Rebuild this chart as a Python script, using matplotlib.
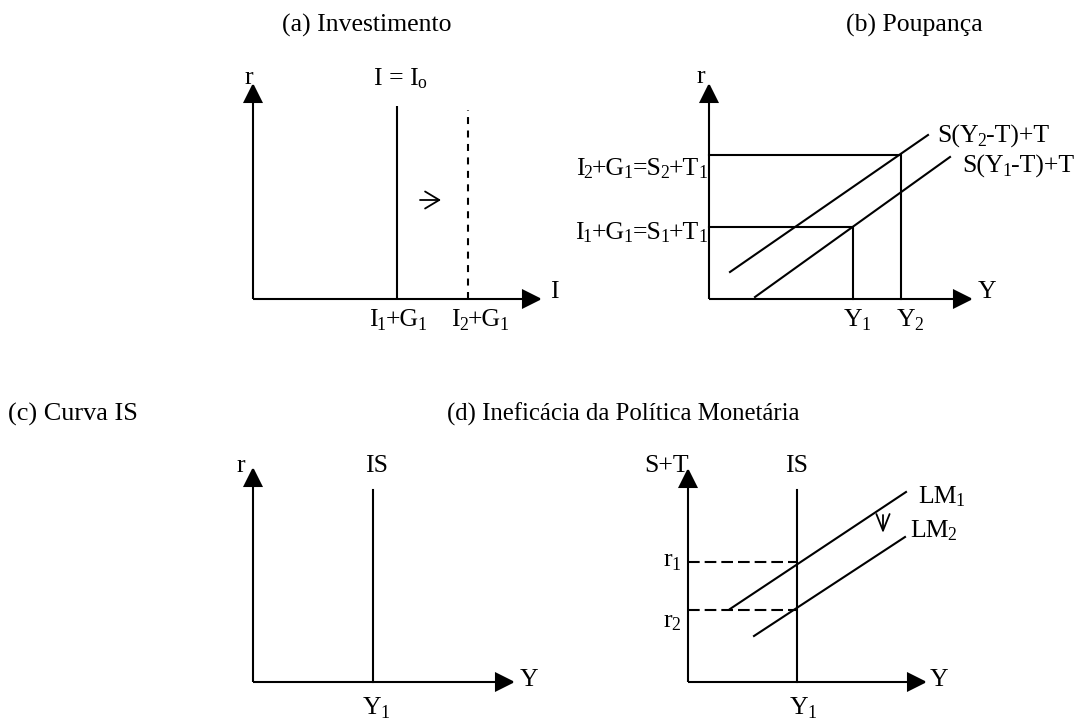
import matplotlib
matplotlib.use("Agg")
import matplotlib.pyplot as plt

plt.rcParams['font.family'] = ['Liberation Serif', 'DejaVu Serif']

W, H, DPI = 1079, 721, 100

# ---------------- data (local units: px from each panel origin, y upward) -------------
titles = ["(a) Investimento", "(b) Poupança", "(c) Curva IS",
          "(d) Ineficácia da Política Monetária"]
origins = [(253, 299), (709, 299), (253, 682), (688, 682)]
axis_len = [(289, 216), (264, 216), (262, 215), (239, 214)]
y_axis_names = ["r", "r", "r", "S+T"]
x_axis_names = ["I", "Y", "Y", "Y"]

# (a) Investimento
inv_x = [144, 215]                 # I1+G1 (solid), I2+G1 (dashed)
inv_top = [193, 189]
inv_ticklabels = ["I_1+G_1", "I_2+G_1"]
inv_curve_label = "I = I_o"
inv_shift_x = [167, 188]
inv_shift_y = [99, 99]

# (b) Poupança
sav_y = [144, 192]                 # Y1, Y2
sav_level = [72, 144]              # I1+G1=S1+T1, I2+G1=S2+T1
sav_ticklabels = ["Y_1", "Y_2"]
sav_level_labels = ["I_1+G_1=S_1+T_1", "I_2+G_1=S_2+T_1"]
sav_line_x = [[46, 241], [21, 219]]
sav_line_y = [[2, 142], [27, 164]]
sav_line_labels = ["S(Y_1-T)+T", "S(Y_2-T)+T"]

# (c) Curva IS
isc_x = 120
isc_top = 192

# (d) Ineficácia da Política Monetária
isd_x = 109
isd_top = 192
lm_x = [[42, 218], [66, 217]]
lm_y = [[73, 190], [46, 145]]
lm_labels = ["LM_1", "LM_2"]
r_levels = [120, 72]
r_labels = ["r_1", "r_2"]
lm_shift_x = [195, 195]
lm_shift_y = [167, 149]

# ---------------- style ----------------
FS = 18.5
SUB_FS = 12.8
SUB_DROP = 3.5
SUB_KERN = 1.3
LW = 1.5

fig = plt.figure(figsize=(W / DPI, H / DPI), dpi=DPI)
renderer = fig.canvas.get_renderer()

axes = []
for (ox, oy) in origins:
    ax = fig.add_axes([0, 0, 1, 1])
    ax.set_xlim(-ox, W - ox)
    ax.set_ylim(-(H - oy), oy)
    ax.axis('off')
    axes.append(ax)


def parse(s):
    segs, buf, i = [], "", 0
    while i < len(s):
        if s[i] == '_' and i + 1 < len(s):
            if buf:
                segs.append((buf, False))
                buf = ""
            segs.append((s[i + 1], True))
            i += 2
        else:
            buf += s[i]
            i += 1
    if buf:
        segs.append((buf, False))
    return segs


def _ink_width(ax, s, size):
    t = ax.text(0, 0, s, fontsize=size)
    w = t.get_window_extent(renderer).width
    t.remove()
    return w


def advance(ax, s, size):
    # advance width of s, measured between two sentinel glyphs
    return _ink_width(ax, "l" + s + "l", size) - _ink_width(ax, "ll", size)


def rich(ax, x, y, s, ha='left', size=FS):
    items, cx = [], 0.0
    for txt, sub in parse(s):
        fs = SUB_FS if sub else size
        if sub:
            cx -= SUB_KERN
        t = ax.text(0, 0, txt, fontsize=fs, ha='left', va='baseline', clip_on=False)
        items.append((t, cx, sub))
        cx += advance(ax, txt, fs)
    shift = {'left': 0, 'center': cx / 2, 'right': cx}[ha]
    for t, off, sub in items:
        t.set_position((x - shift + off, y - (SUB_DROP if sub else 0)))


def axis_arrows(ax, lx, ly):
    kw = dict(arrowstyle='-|>', lw=LW, color='black', mutation_scale=30,
              shrinkA=0, shrinkB=0, joinstyle='miter', capstyle='butt')
    ax.annotate('', xy=(lx, 0), xytext=(0, 0), arrowprops=kw)
    ax.annotate('', xy=(0, ly), xytext=(0, 0), arrowprops=kw)


def small_arrow(ax, xs, ys, hl, hw):
    ax.annotate('', xy=(xs[1], ys[1]), xytext=(xs[0], ys[0]),
                arrowprops=dict(arrowstyle='->,head_length=%.2f,head_width=%.2f' % (hl, hw),
                                lw=1.3, color='black', mutation_scale=17,
                                shrinkA=0, shrinkB=0))


for ax, (lx, ly) in zip(axes, axis_len):
    axis_arrows(ax, lx, ly)

# ---------- (a) ----------
ax = axes[0]
rich(ax, 114, 267, titles[0], ha='center')
rich(ax, -4, 215, y_axis_names[0], ha='center')
rich(ax, 297, 1, x_axis_names[0], ha='left')
ax.plot([inv_x[0], inv_x[0]], [0, inv_top[0]], color='black', lw=LW, solid_capstyle='butt')
ax.plot([inv_x[1], inv_x[1]], [0, inv_top[1]], color='black', lw=LW,
        dashes=(3.36, 3.1))
rich(ax, inv_x[0] + 3, 214, inv_curve_label, ha='center')
rich(ax, inv_x[0] + 1, -27, inv_ticklabels[0], ha='center')
rich(ax, inv_x[1] + 12, -27, inv_ticklabels[1], ha='center')
small_arrow(ax, inv_shift_x, inv_shift_y, 0.6, 0.36)

# ---------- (b) ----------
ax = axes[1]
rich(ax, 205, 267, titles[1], ha='center')
rich(ax, -8, 216, y_axis_names[1], ha='center')
rich(ax, 269, 1, x_axis_names[1], ha='left')
for yv, lev in zip(sav_y, sav_level):
    ax.plot([0, yv, yv], [lev, lev, 0], color='black', lw=LW, solid_joinstyle='miter')
for xs, ys in zip(sav_line_x, sav_line_y):
    ax.plot(xs, ys, color='black', lw=LW)
rich(ax, sav_y[0] + 4, -27, sav_ticklabels[0], ha='center')
rich(ax, sav_y[1] + 9, -27, sav_ticklabels[1], ha='center')
rich(ax, -2, sav_level[0] - 12, sav_level_labels[0], ha='right')
rich(ax, -2, sav_level[1] - 20, sav_level_labels[1], ha='right')
rich(ax, sav_line_x[0][1] + 12, sav_line_y[0][1] - 16, sav_line_labels[0], ha='left')
rich(ax, sav_line_x[1][1] + 9, sav_line_y[1][1] - 8, sav_line_labels[1], ha='left')

# ---------- (c) ----------
ax = axes[2]
rich(ax, -245, 261, titles[2], ha='left', size=18.9)
rich(ax, -12, 210, y_axis_names[2], ha='center')
rich(ax, 267, -4, x_axis_names[2], ha='left')
ax.plot([isc_x, isc_x], [0, isc_top], color='black', lw=LW)
rich(ax, isc_x + 4, 210, "IS", ha='center')
rich(ax, isc_x + 3, -32, "Y_1", ha='center')

# ---------- (d) ----------
ax = axes[3]
rich(ax, -241, 261, titles[3], ha='left', size=17.8)
rich(ax, 1, 210, y_axis_names[3], ha='right')
rich(ax, 242, -4, x_axis_names[3], ha='left')
ax.plot([isd_x, isd_x], [0, isd_top], color='black', lw=LW)
rich(ax, isd_x, 210, "IS", ha='center')
rich(ax, isd_x + 6, -32, "Y_1", ha='center')
for xs, ys in zip(lm_x, lm_y):
    ax.plot(xs, ys, color='black', lw=LW)
for lev in r_levels:
    ax.plot([0, isd_x], [lev, lev], color='black', lw=LW, dashes=(5.6, 2.4))
rich(ax, -16, r_levels[0] - 4, r_labels[0], ha='center')
rich(ax, -16, r_levels[1] - 17, r_labels[1], ha='center')
rich(ax, lm_x[0][1] + 12, lm_y[0][1] - 11, lm_labels[0], ha='left')
rich(ax, lm_x[1][1] + 5, lm_y[1][1] + 0, lm_labels[1], ha='left')
small_arrow(ax, lm_shift_x, lm_shift_y, 0.7, 0.28)

fig.savefig("out.png", dpi=DPI)
